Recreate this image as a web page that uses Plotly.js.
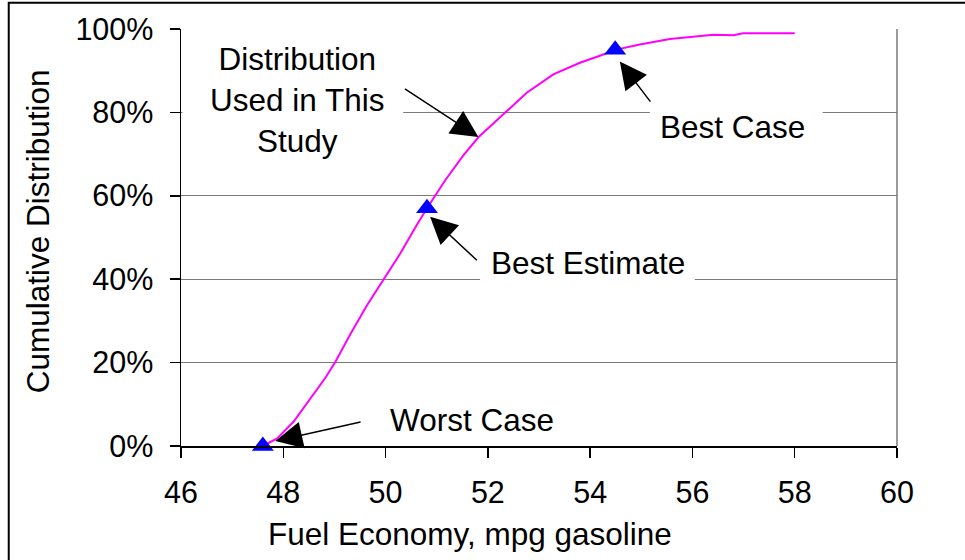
<!DOCTYPE html>
<html>
<head>
<meta charset="utf-8">
<script src="https://cdn.plot.ly/plotly-3.0.1.min.js"></script>
<style>
  html, body { margin: 0; padding: 0; background: #ffffff; }
  #chart { width: 965px; height: 560px; }
</style>
</head>
<body>
<div id="chart"></div>
<script>
// Fuel economy (mpg gasoline) and cumulative distribution of the curve
const mpg = [47.6, 47.88, 48.2, 48.5, 48.82, 49.02, 49.31, 49.64, 49.96, 50.29, 50.61, 50.81,
             51.17, 51.52, 51.82, 52.34, 52.76, 53.28, 53.54, 53.80, 54.19, 54.49, 54.97,
             55.56, 56.41, 56.80, 56.99, 57.61, 58.0];
const cumulative = [0.0, 0.018, 0.058, 0.11, 0.163, 0.202, 0.268, 0.338, 0.400, 0.462, 0.53, 0.57,
                    0.638, 0.697, 0.741, 0.799, 0.847, 0.891, 0.905, 0.919, 0.936, 0.95, 0.963,
                    0.976, 0.986, 0.985, 0.99, 0.99, 0.99];

// Highlighted cases
const caseNames = ["Worst Case", "Best Estimate", "Best Case"];
const caseMpg = [47.6, 50.81, 54.49];
const caseCum = [0.0, 0.57, 0.95];

// Axis ticks
const xTickVals = [46, 48, 50, 52, 54, 56, 58, 60];
const yTickVals = [0, 0.2, 0.4, 0.6, 0.8, 1.0];
const yTickText = ["0%", "20%", "40%", "60%", "80%", "100%"];

const FONT = "Liberation Sans, Arial, Helvetica, sans-serif";

const traces = [
  {
    x: mpg, y: cumulative, type: "scatter", mode: "lines",
    line: { color: "#FF00FF", width: 2 },
    hoverinfo: "x+y", showlegend: false
  },
  {
    x: caseMpg, y: caseCum, type: "scatter", mode: "markers", text: caseNames,
    marker: { symbol: "triangle-up", size: 19, color: "#0000FF" },
    cliponaxis: false, showlegend: false
  }
];

const annFont = { family: FONT, size: 31.5, color: "#000000" };
const arrow = (x, y, ax, ay) => ({
  x: x, y: y, xref: "x", yref: "y", ax: ax, ay: ay, text: "",
  showarrow: true, arrowhead: 2, arrowsize: 3.6, arrowwidth: 1.5, arrowcolor: "#000000", standoff: 0
});
const label = (text, x, y) => ({
  x: x, y: y, xref: "x", yref: "y", text: text, showarrow: false,
  xanchor: "center", yanchor: "middle", font: annFont, align: "center"
});

const layout = {
  width: 965, height: 560,
  margin: { l: 180.5, r: 67.5, t: 29.3, b: 114 },
  paper_bgcolor: "#ffffff", plot_bgcolor: "#ffffff",
  font: { family: FONT, color: "#000000" },
  showlegend: false,
  xaxis: {
    range: [46, 60], tickvals: xTickVals, ticks: "outside", ticklen: 10, tickcolor: "#000000",
    tickwidth: 1.5, showline: true, linecolor: "#000000", linewidth: 1.5,
    showgrid: false, zeroline: false, ticklabelstandoff: 9,
    tickfont: { family: FONT, size: 30.5, color: "#000000" }
  },
  yaxis: {
    range: [0, 1], tickvals: yTickVals, ticktext: yTickText, ticks: "outside", ticklen: 10,
    tickcolor: "#000000", tickwidth: 1.5, showline: true, linecolor: "#000000", linewidth: 1.5,
    showgrid: true, gridcolor: "#7a7a7a", gridwidth: 1, zeroline: false, ticklabelstandoff: 10,
    tickfont: { family: FONT, size: 30.5, color: "#000000" }
  },
  shapes: [
    // right edge of the plot area
    { type: "line", xref: "paper", yref: "paper", x0: 1, x1: 1, y0: 0, y1: 1,
      line: { color: "#7a7a7a", width: 1.5 } },
    // white boxes that interrupt gridlines behind the labels
    { type: "rect", xref: "paper", yref: "paper", x0: 0.002, x1: (403 - 180.5) / 717,
      y0: 0.76, y1: 0.9, fillcolor: "#ffffff", line: { width: 0 } },
    { type: "rect", xref: "paper", yref: "paper", x0: (480 - 180.5) / 717, x1: (695 - 180.5) / 717,
      y0: 0.37, y1: 0.43, fillcolor: "#ffffff", line: { width: 0 } },
    { type: "rect", xref: "paper", yref: "paper", x0: (650 - 180.5) / 717, x1: (823 - 180.5) / 717,
      y0: 0.77, y1: 0.83, fillcolor: "#ffffff", line: { width: 0 } },
    // outer chart border
    { type: "rect", xref: "paper", yref: "paper", x0: (8 - 180.5) / 717, x1: 1.2,
      y0: -0.5, y1: (446 - 3) / 416.7, line: { color: "#000000", width: 2 }, fillcolor: "rgba(0,0,0,0)" }
  ],
  annotations: [
    label("Worst Case", 51.69, 0.062),
    label("Best Estimate", 53.95, 0.44),
    label("Best Case", 56.78, 0.766),
    label("Distribution<br>Used in This<br>Study", 48.27, 0.83),
    arrow(47.845, 0.012, 86.7, -19.3),
    arrow(50.87, 0.550, 48.3, 45),
    arrow(54.58, 0.922, 31.7, 41.6),
    arrow(51.815, 0.741, -75, -49),
    { x: (470 - 180.5) / 717, y: (446 - 534) / 416.7, xref: "paper", yref: "paper",
      text: "Fuel Economy, mpg gasoline", showarrow: false, xanchor: "center", yanchor: "middle",
      font: annFont },
    { x: (37 - 180.5) / 717, y: (446 - 231.7) / 416.7, xref: "paper", yref: "paper",
      text: "Cumulative Distribution", showarrow: false, textangle: -90,
      xanchor: "center", yanchor: "middle", font: annFont }
  ]
};

Plotly.newPlot("chart", traces, layout, { displayModeBar: false, staticPlot: true });
</script>
</body>
</html>
